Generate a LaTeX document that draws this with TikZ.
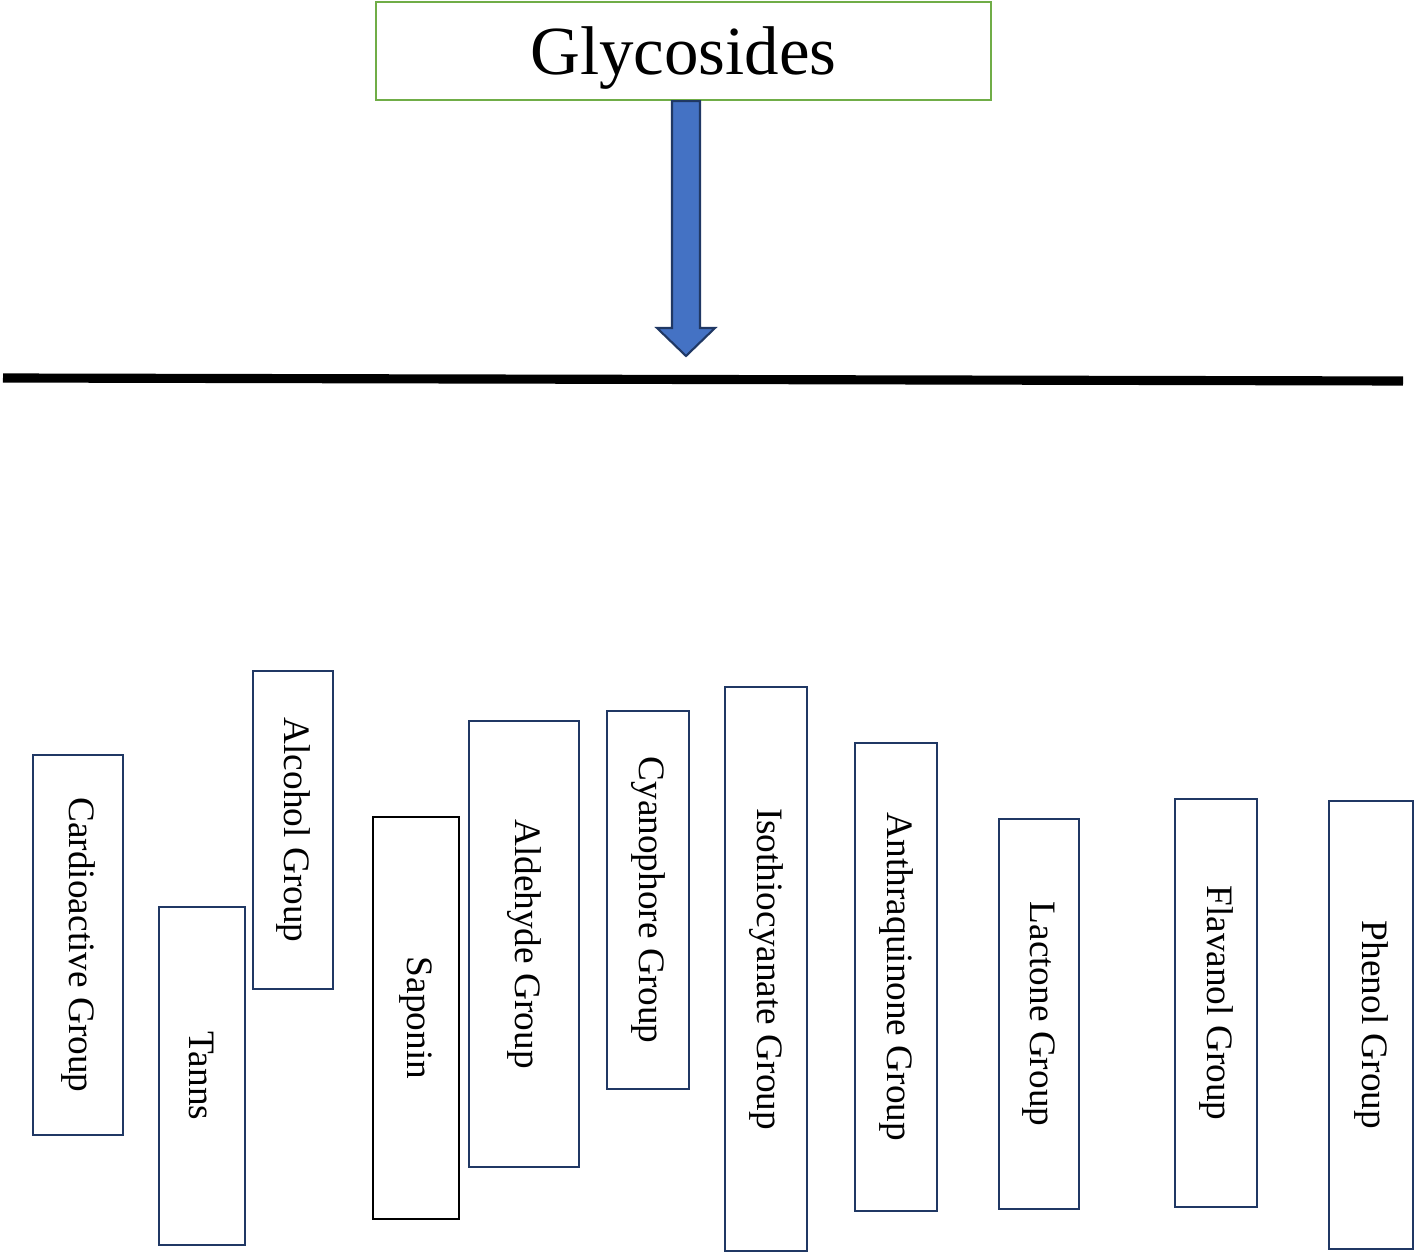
\documentclass[tikz,border=0pt]{standalone}
\usepackage{fontspec}
\setmainfont{Liberation Serif}
\definecolor{BoxNavy}{RGB}{32,56,100}
\definecolor{TitleGreen}{RGB}{112,173,71}
\definecolor{ArrowBlue}{RGB}{68,114,196}
\usetikzlibrary{calc}

\begin{document}
\begin{tikzpicture}[x=0.01cm, y=-0.01cm,
    groupbox/.style={draw=BoxNavy, line width=0.6pt, rotate=-90, inner sep=0pt,
                     font=\fontsize{10.6}{12}\selectfont}]

    \useasboundingbox (0,0) rectangle (1414,1252);

    % Title
    \node[draw=TitleGreen, line width=0.6pt, minimum width=6.15cm, minimum height=0.98cm,
          inner sep=0pt, text depth=0pt, font=\fontsize{19.6}{22}\selectfont]
          (title) at (683.5,51) {Glycosides};

    % Block arrow down to the base line
    \coordinate (tip) at (686,356);
    \coordinate (arrowtop) at (title.south -| tip);
    \draw[BoxNavy, fill=ArrowBlue, line width=0.6pt, line join=miter]
      ($(arrowtop)+(-14,0)$) -- ($(arrowtop)+(14,0)$) -- ($(tip)+(14,-28)$)
      -- ($(tip)+(29,-28)$) -- (tip) -- ($(tip)+(-29,-28)$)
      -- ($(tip)+(-14,-28)$) -- cycle;

    % Base line
    \coordinate (baseL) at (3,378);
    \coordinate (baseR) at (1403,381);
    \draw[line width=2.6pt] (baseL) -- (baseR);

    % Groups
    \node[groupbox, minimum width=3.80cm, minimum height=0.90cm] (cardio) at (78,945) {Cardioactive Group};
    \node[groupbox, minimum width=3.38cm, minimum height=0.86cm] (tanns) at (202,1076) {Tanns};
    \node[groupbox, minimum width=3.18cm, minimum height=0.80cm] (alcohol) at (293,830) {Alcohol Group};
    \node[groupbox, draw=black, minimum width=4.02cm, minimum height=0.86cm] (saponin) at (416,1018) {Saponin};
    \node[groupbox, minimum width=4.46cm, minimum height=1.10cm] (aldehyde) at (524,944) {Aldehyde Group};
    \node[groupbox, minimum width=3.78cm, minimum height=0.82cm] (cyano) at (648,900) {Cyanophore Group};
    \node[groupbox, minimum width=5.64cm, minimum height=0.82cm] (isothio) at (766,969) {Isothiocyanate Group};
    \node[groupbox, minimum width=4.68cm, minimum height=0.82cm] (anthra) at (896,977) {Anthraquinone Group};
    \node[groupbox, minimum width=3.90cm, minimum height=0.80cm] (lactone) at (1039,1014) {Lactone Group};
    \node[groupbox, minimum width=4.08cm, minimum height=0.82cm] (flavanol) at (1216,1003) {Flavanol Group};
    \node[groupbox, minimum width=4.48cm, minimum height=0.84cm] (phenol) at (1371,1025) {Phenol Group};
\end{tikzpicture}
\end{document}
